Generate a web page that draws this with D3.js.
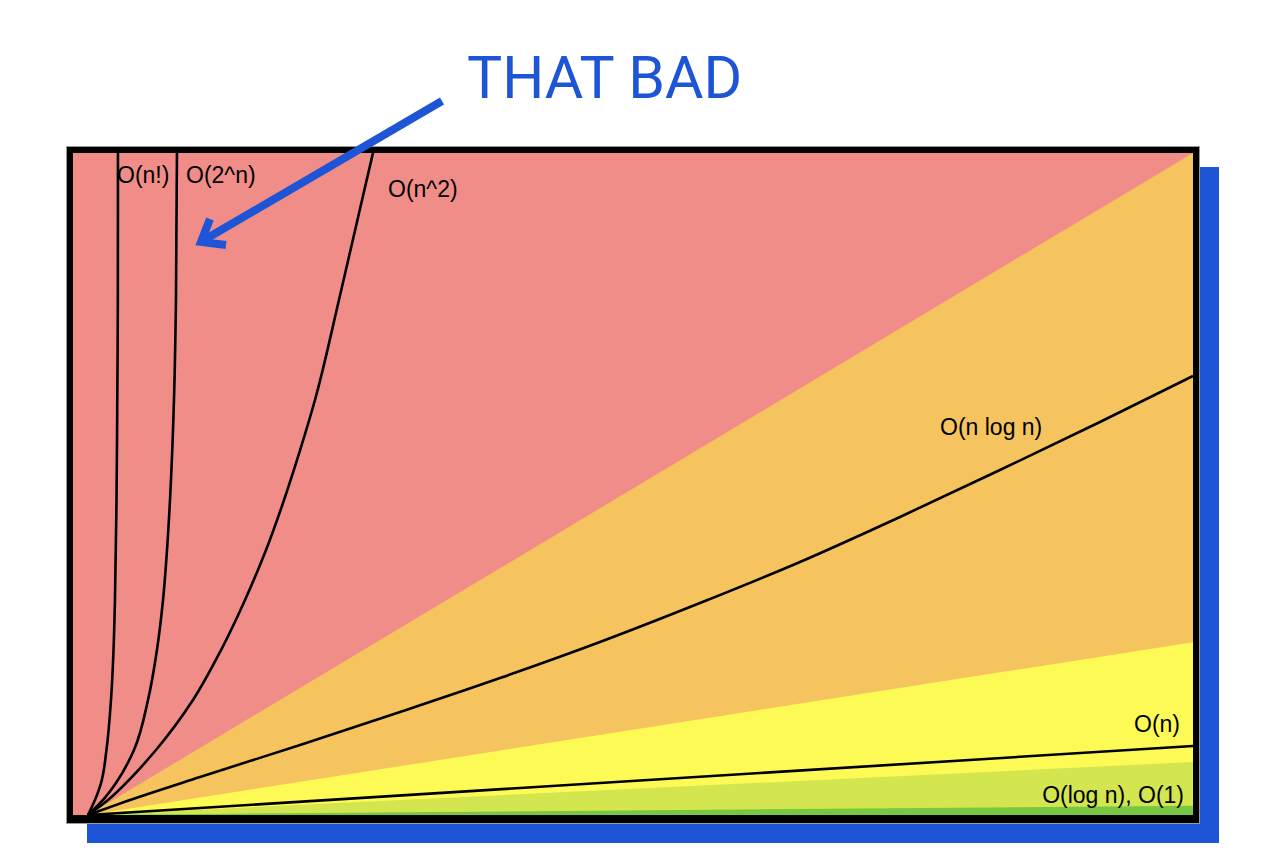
<!DOCTYPE html>
<html>
<head>
<meta charset="utf-8">
<script src="https://cdn.jsdelivr.net/npm/d3@7"></script>
<style>
  html, body { margin: 0; padding: 0; background: #fff; }
  svg { display: block; }
</style>
</head>
<body>
<svg id="chart" width="1280" height="865"></svg>
<script>
// ----- data (x and y in 0..100 units) -----
const zones = ["horrible", "bad", "fair", "good", "excellent"];
const zoneColors = ["#f18d89", "#f6c45e", "#fefa55", "#d3e64f", "#78c841"];
// upper edge of each zone at the right side of the plot (zones below "horrible")
const zoneTops = [100, 26.1, 8.0, 1.4];

const curveNames = ["O(n!)", "O(2^n)", "O(n^2)", "O(n log n)", "O(n)"];
const nFact = [[0,0],[0.63,2.27],[1.18,4.83],[1.67,9.82],[2.08,17.37],[2.31,24.92],[2.44,32.48],[2.58,47.58],[2.65,62.69],[2.7,77.79],[2.71,100]];
const twoN = [[0,0],[1.36,2.27],[2.53,4.83],[4.16,9.82],[5.43,17.37],[6.24,24.92],[6.79,32.48],[7.15,40.03],[7.42,47.58],[7.78,62.69],[7.96,77.79],[8.05,100]];
const nSq = [[0,0],[1.81,2.27],[3.44,4.83],[6.15,9.82],[9.5,17.37],[12.04,24.92],[14.21,32.48],[16.11,40.03],[17.74,47.58],[19.2,55.14],[20.54,62.69],[22.71,77.79],[24.8,92.9],[25.79,100]];
const nLogN = [[0,0],[3.8,2.27],[10.14,5.74],[19.19,10.57],[28.24,15.56],[37.29,20.69],[46.33,26.13],[55.38,32.02],[64.43,38.22],[73.48,45.02],[82.53,52.11],[91.58,59.37],[100,66.31]];
const linearN = [[0,0],[100,10.42]];
const curves = [nFact, twoN, nSq, nLogN, linearN];

const labels = ["O(n!)", "O(2^n)", "O(n^2)", "O(n log n)", "O(n)", "O(log n), O(1)"];

const svg = d3.select("#chart");
const blue = "#1e55d6";

// plot box
const plot = { left: 73, top: 153, right: 1193, bottom: 815 };

const x = d3.scaleLinear().domain([0, 100]).range([88, plot.right]);
const y = d3.scaleLinear().domain([0, 100]).range([plot.bottom, plot.top]);

// blue drop shadow
svg.append("rect")
    .attr("x", 87).attr("y", 167)
    .attr("width", 1132).attr("height", 676)
    .attr("fill", blue);

svg.append("defs").append("clipPath").attr("id", "plotClip")
  .append("rect")
    .attr("x", plot.left).attr("y", plot.top)
    .attr("width", plot.right - plot.left).attr("height", plot.bottom - plot.top);

const g = svg.append("g").attr("clip-path", "url(#plotClip)");

// worst zone fills the whole plot
g.append("rect")
    .attr("x", plot.left).attr("y", plot.top)
    .attr("width", plot.right - plot.left).attr("height", plot.bottom - plot.top)
    .attr("fill", zoneColors[0]);

const area = d3.area()
    .x(d => x(d[0]))
    .y0(y(0))
    .y1(d => y(d[1]));

zoneTops.forEach((top, i) => {
  g.append("path")
      .datum([[0, 0], [100, top]])
      .attr("d", area)
      .attr("fill", zoneColors[i + 1]);
});

const lineY = d3.line()
    .x(d => x(d[0]))
    .y(d => y(d[1]))
    .curve(d3.curveMonotoneY);
const lineX = d3.line()
    .x(d => x(d[0]))
    .y(d => y(d[1]))
    .curve(d3.curveMonotoneX);

curves.forEach((pts, i) => {
  g.append("path")
      .datum(pts)
      .attr("d", i < 3 ? lineY : lineX)
      .attr("fill", "none")
      .attr("stroke", "#000")
      .attr("stroke-width", 2.6)
      .attr("stroke-linejoin", "round");
});

// curve labels
const labelPos = [
  { x: 117, y: 183, anchor: "start" },
  { x: 186, y: 183, anchor: "start" },
  { x: 388, y: 197, anchor: "start" },
  { x: 940, y: 435, anchor: "start" },
  { x: 1180, y: 732, anchor: "end" },
  { x: 1184, y: 803, anchor: "end" }
];
labels.forEach((t, i) => {
  svg.append("text")
      .attr("x", labelPos[i].x)
      .attr("y", labelPos[i].y)
      .attr("text-anchor", labelPos[i].anchor)
      .attr("font-family", "'Liberation Sans', Arial, Helvetica, sans-serif")
      .attr("font-size", 23)
      .attr("fill", "#000")
      .text(t);
});

// frame
svg.append("rect")
    .attr("x", 66.5).attr("y", 146.5)
    .attr("width", 1133).attr("height", 677)
    .attr("fill", "none")
    .attr("stroke", "#9a9a9a")
    .attr("stroke-width", 1);
svg.append("rect")
    .attr("x", 70).attr("y", 150)
    .attr("width", 1126).attr("height", 669)
    .attr("fill", "none")
    .attr("stroke", "#000")
    .attr("stroke-width", 6);
svg.append("line")
    .attr("x1", 67).attr("x2", 1199)
    .attr("y1", 819).attr("y2", 819)
    .attr("stroke", "#000")
    .attr("stroke-width", 8);

// annotation
svg.append("text")
    .attr("x", 467)
    .attr("y", 98)
    .attr("font-family", "Roboto, 'Open Sans', sans-serif")
    .attr("font-size", 59)
    .attr("fill", blue)
    .text("THAT BAD");

svg.append("line")
    .attr("x1", 442).attr("y1", 101)
    .attr("x2", 204).attr("y2", 240)
    .attr("stroke", blue)
    .attr("stroke-width", 8);
svg.append("polyline")
    .attr("points", "210,219 201,242 226,245")
    .attr("fill", "none")
    .attr("stroke", blue)
    .attr("stroke-width", 8)
    .attr("stroke-linejoin", "miter");
</script>
</body>
</html>
